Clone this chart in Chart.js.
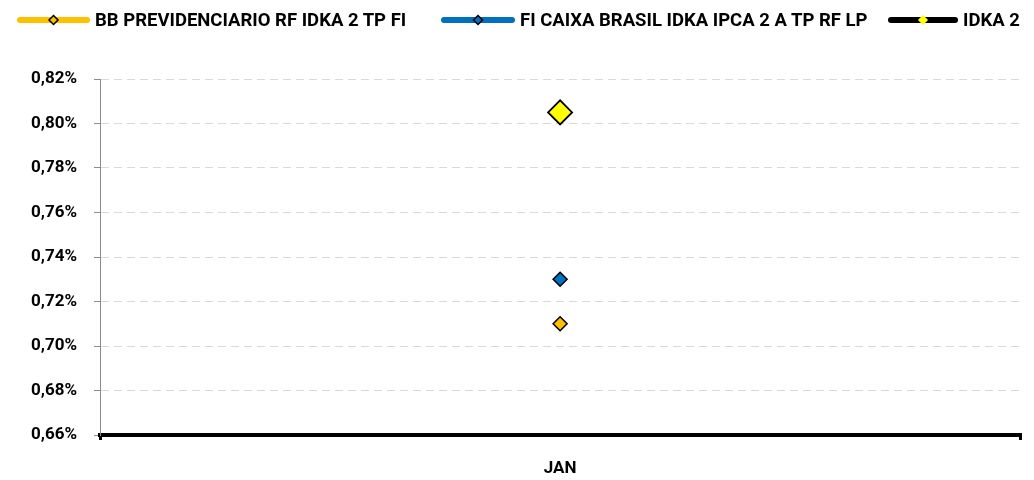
<!DOCTYPE html>
<html>
<head>
<meta charset="utf-8">
<script src="https://cdn.jsdelivr.net/npm/chart.js@4"></script>
<style>
  html, body { margin: 0; padding: 0; background: #fff; }
  #wrap { position: relative; width: 1034px; height: 480px; overflow: hidden; }
  #legend { position: absolute; top: 9px; left: 0; width: 1100px; height: 22px; font: bold 18.5px Roboto, sans-serif; color: #000; white-space: nowrap; }
  .item { position: absolute; top: 0; height: 22px; line-height: 22px; }
  .item canvas { position: absolute; top: 1px; left: 0; }
  .item span { position: absolute; top: 0; }
</style>
</head>
<body>
<div id="wrap">
  <div id="legend"></div>
  <canvas id="graph_rent" width="1034" height="480"></canvas>
</div>
<script>
var labels = ['JAN'];
var serieNames = ['BB PREVIDENCIARIO RF IDKA 2 TP FI', 'FI CAIXA BRASIL IDKA IPCA 2 A TP RF LP', 'IDKA 2'];
var bbValues = [0.71];
var caixaValues = [0.73];
var idkaValues = [0.805];
var lineColors = ['#FFC000', '#0070C0', '#000000'];
var pointColors = ['#FFC000', '#0070C0', '#FFFF00'];

// legenda em HTML
var legendPos = [[17, 95], [441, 520], [888, 963]];
var legend = document.getElementById('legend');
serieNames.forEach(function (name, i) {
    var item = document.createElement('div');
    item.className = 'item';
    item.style.left = legendPos[i][0] + 'px';
    var c = document.createElement('canvas');
    var w = legendPos[i][1] - legendPos[i][0] - 5;
    c.width = w; c.height = 20;
    var g = c.getContext('2d');
    g.strokeStyle = lineColors[i];
    g.lineWidth = 6;
    g.lineCap = 'round';
    g.beginPath(); g.moveTo(3, 10); g.lineTo(w - 3, 10); g.stroke();
    var r = i == 2 ? 4 : 4.5;
    g.fillStyle = pointColors[i];
    g.strokeStyle = i == 2 ? '#FFFF00' : '#000';
    g.lineWidth = 1.5;
    g.beginPath(); g.moveTo(w / 2, 10 - r); g.lineTo(w / 2 + r, 10); g.lineTo(w / 2, 10 + r); g.lineTo(w / 2 - r, 10); g.closePath();
    g.fill(); g.stroke();
    item.appendChild(c);
    var s = document.createElement('span');
    s.style.left = (w + 5) + 'px';
    s.textContent = name;
    item.appendChild(s);
    legend.appendChild(item);
});

var ctx = document.getElementById('graph_rent');
var pct = function (v) { return v.toFixed(2).replace('.', ',') + '%'; };
var fonte = { family: 'Roboto', size: 17, weight: 'bold' };

new Chart(ctx, {
    type: 'line',
    data: {
        labels: labels,
        datasets: [
            { label: serieNames[0], data: bbValues, borderColor: lineColors[0], backgroundColor: pointColors[0],
              pointStyle: 'rectRot', pointRadius: 7, pointBorderColor: '#000', pointBorderWidth: 1.5 },
            { label: serieNames[1], data: caixaValues, borderColor: lineColors[1], backgroundColor: pointColors[1],
              pointStyle: 'rectRot', pointRadius: 7, pointBorderColor: '#000', pointBorderWidth: 1.5 },
            { label: serieNames[2], data: idkaValues, borderColor: lineColors[2], backgroundColor: pointColors[2],
              pointStyle: 'rectRot', pointRadius: 12, pointBorderColor: '#000', pointBorderWidth: 1.8 }
        ]
    },
    options: {
        responsive: false,
        animation: false,
        layout: { padding: { left: 0, right: 12, top: 79, bottom: 0 } },
        plugins: { legend: { display: false }, tooltip: { enabled: false } },
        scales: {
            x: {
                offset: true,
                afterFit: function (s) { s.height = 45; },
                border: { color: '#000', width: 4 },
                grid: { offset: true, drawOnChartArea: false, drawTicks: true, tickLength: 5, color: '#000', lineWidth: 3 },
                ticks: { color: '#000', padding: 19, font: fonte }
            },
            y: {
                min: 0.66,
                max: 0.82,
                afterFit: function (s) { s.width = 100; },
                border: { color: '#8c8c8c', width: 1, dash: [8, 5] },
                grid: { color: '#d9d9d9', tickColor: '#8c8c8c', tickLength: 6, tickBorderDash: [] },
                ticks: { stepSize: 0.02, color: '#000', padding: 17, callback: pct, font: fonte }
            }
        }
    }
});
</script>
</body>
</html>
